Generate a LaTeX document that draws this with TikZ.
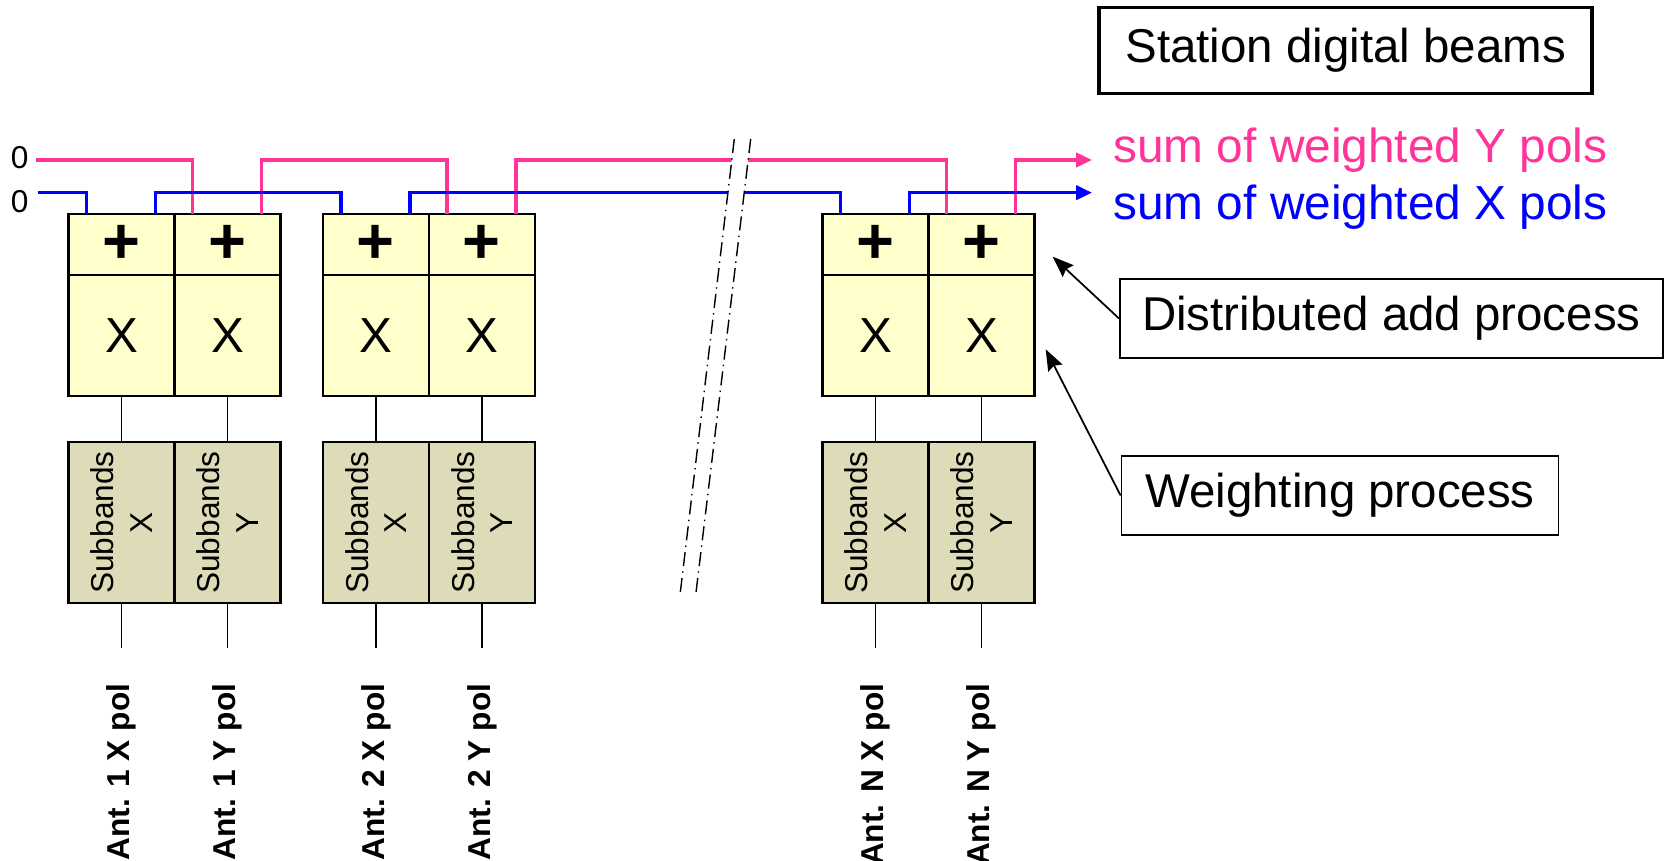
\documentclass[tikz,border=0pt]{standalone}
\usepackage{fontspec}
\setmainfont{Liberation Sans}
\usepackage{tikz}
\usetikzlibrary{arrows.meta, calc}
\definecolor{ypink}{RGB}{255,51,153}
\definecolor{xblue}{RGB}{0,0,255}
\definecolor{cellyellow}{RGB}{255,255,204}
\definecolor{celltan}{RGB}{221,219,184}
\tikzset{
  add_cell/.style={rectangle, draw=black, fill=cellyellow, line width=0.7pt, outer sep=0pt, inner sep=0pt, minimum width=1.06cm, minimum height=0.61cm, font=\fontsize{18.5}{20}\selectfont\bfseries},
  mul_cell/.style={rectangle, draw=black, fill=cellyellow, line width=0.7pt, outer sep=0pt, inner sep=0pt, minimum width=1.06cm, minimum height=1.21cm, font=\fontsize{14}{16}\selectfont},
  sub_cell/.style={rectangle, draw=black, fill=celltan, line width=0.7pt, outer sep=0pt, minimum width=1.06cm, minimum height=1.61cm},
  sub_text/.style={rotate=90, align=center, font=\fontsize{9}{11}\selectfont},
  ant_label/.style={rotate=90, anchor=east, inner sep=0pt, font=\fontsize{9}{11}\selectfont\bfseries},
  stem/.style={-, line width=0.4pt, black},
  y_wire/.style={line width=1pt, draw=ypink},
  x_wire/.style={line width=1pt, draw=xblue},
  out_arrow/.style={-{Triangle[length=4.5pt,width=4pt]}},
  break_line/.style={line width=0.4pt, dash pattern=on 4pt off 1.5pt on 0.4pt off 1.5pt},
  zero_label/.style={font=\fontsize{9}{11}\selectfont},
  sum_label/.style={anchor=base west, inner sep=0pt, font=\fontsize{13.6}{16}\selectfont},
  title_box/.style={rectangle, draw=black, line width=1pt, font=\fontsize{13.5}{16}\selectfont},
  note_box/.style={rectangle, draw=black, line width=0.5pt, font=\fontsize{13.5}{16}\selectfont},
  pointer/.style={-{Stealth[length=6pt,width=4.5pt,inset=0.8pt]}, line width=0.5pt, black}
}

\begin{document}
\begin{tikzpicture}
  \useasboundingbox (0,0) rectangle (16.65,8.61);

  % Antenna chains
  \foreach \g/\xl in {1/0.686, 2/3.229, N/8.227} {
    \node[add_cell, anchor=north west] (add_x\g) at (\xl, 6.47) {+};
    \node[add_cell, anchor=north west] (add_y\g) at (add_x\g.north east) {+};
    \node[mul_cell, anchor=north west] (mul_x\g) at (add_x\g.south west) {X};
    \node[mul_cell, anchor=north west] (mul_y\g) at (add_y\g.south west) {X};

    \node[sub_cell, anchor=north west] (sub_x\g) at (\xl, 4.19) {};
    \node[sub_cell, anchor=north west] (sub_y\g) at (sub_x\g.north east) {};
    \node[sub_text] at (sub_x\g) {Subbands\\X};
    \node[sub_text] at (sub_y\g) {Subbands\\Y};

    \draw[stem] (mul_x\g.south) -- (sub_x\g.north);
    \draw[stem] (mul_y\g.south) -- (sub_y\g.north);
    \draw[stem] (sub_x\g.south) -- ++(0,-0.45) coordinate (feed_x\g);
    \draw[stem] (sub_y\g.south) -- ++(0,-0.45) coordinate (feed_y\g);
    \node[ant_label] (ant_x\g) at ($(feed_x\g)+(0,-0.35)$) {Ant. \g\ X pol};
    \node[ant_label] (ant_y\g) at ($(feed_y\g)+(0,-0.35)$) {Ant. \g\ Y pol};

    % taps of the sum lines
    \coordinate (in_x\g) at ($(add_x\g.north west)!0.17!(add_x\g.north east)$);
    \coordinate (out_x\g) at ($(add_x\g.north west)!0.82!(add_x\g.north east)$);
    \coordinate (in_y\g) at ($(add_y\g.north west)!0.17!(add_y\g.north east)$);
    \coordinate (out_y\g) at ($(add_y\g.north west)!0.82!(add_y\g.north east)$);
  }

  % Sum lines
  \node[zero_label] (zero_y) at (0.196, 7.03) {0};
  \node[zero_label] (zero_x) at (0.196, 6.593) {0};
  \coordinate (start_y) at (0.357, 7.01);
  \coordinate (start_x) at (0.382, 6.683);
  \coordinate (end_y) at (10.92, 7.01);
  \coordinate (end_x) at (10.92, 6.683);

  \draw[y_wire] (start_y) -| (in_y1);
  \draw[y_wire] (out_y1) |- (start_y -| in_y2) -- (in_y2);
  \draw[y_wire] (out_y2) |- (start_y -| in_yN) -- (in_yN);
  \draw[y_wire, out_arrow] (out_yN) |- (end_y);

  \draw[x_wire] (start_x) -| (in_x1);
  \draw[x_wire] (out_x1) |- (start_x -| in_x2) -- (in_x2);
  \draw[x_wire] (out_x2) |- (start_x -| in_xN) -- (in_xN);
  \draw[x_wire, out_arrow] (out_xN) |- (end_x);

  % Break
  \fill[white] (7.343,7.22) -- (6.80,2.66) -- (6.957,2.66) -- (7.507,7.22) -- cycle;
  \draw[break_line] (7.343,7.22) -- (6.80,2.66);
  \draw[break_line] (7.507,7.22) -- (6.957,2.66);

  \node[sum_label, text=ypink] (sum_y) at (11.127, 6.98) {sum of weighted Y pols};
  \node[sum_label, text=xblue] (sum_x) at (11.127, 6.41) {sum of weighted X pols};

  % Notes
  \node[title_box, minimum width=4.93cm, minimum height=0.86cm] (title) at (13.457, 8.107) {Station digital beams};
  \node[note_box, minimum width=5.43cm, minimum height=0.784cm] (add_note) at (13.914, 5.425) {Distributed add process};
  \node[note_box, minimum width=4.37cm, minimum height=0.79cm] (weight_note) at (13.40, 3.655) {Weighting process};

  \coordinate (add_tip) at (10.527, 6.043);
  \coordinate (weight_tip) at (10.457, 5.117);
  \draw[pointer] (add_note.west) -- (add_tip);
  \draw[pointer] (weight_note.west) -- (weight_tip);
\end{tikzpicture}
\end{document}
